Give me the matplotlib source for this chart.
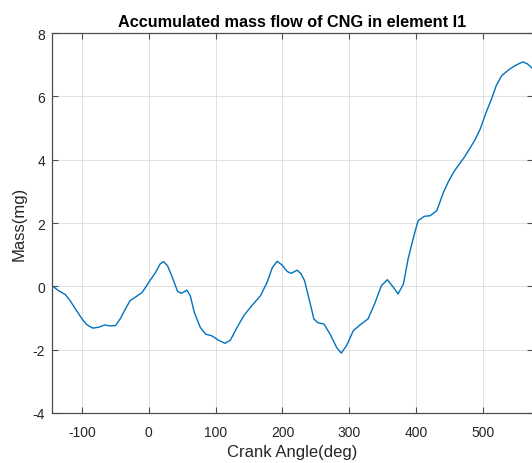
import matplotlib
matplotlib.use("Agg")
import matplotlib.pyplot as plt

plt.rcParams['font.family'] = ['Liberation Sans', 'DejaVu Sans']
plt.rcParams['axes.unicode_minus'] = False

# Crank angle (deg) and accumulated CNG mass (mg)
crank_angle = [-145, -135, -125, -118, -110, -100, -93, -84, -75, -66, -58,
               -50, -43, -35, -28, -18, -10, 0, 10, 17, 22, 28, 35, 43, 49,
               57, 62, 68, 77, 85, 94, 104, 114, 122, 132, 142, 154, 167,
               177, 185, 192, 199, 207, 213, 222, 228, 233, 241, 247, 253,
               262, 271, 281, 288, 296, 306, 316, 328, 338, 348, 357, 366,
               373, 381, 388, 396, 403, 412, 421, 431, 441, 448, 456, 463,
               471, 480, 488, 496, 505, 513, 520, 528, 540, 550, 560, 567,
               575]
mass_mg = [0.02, -0.14, -0.26, -0.45, -0.71, -1.03, -1.21, -1.32, -1.29,
           -1.22, -1.25, -1.24, -1.03, -0.71, -0.45, -0.31, -0.19, 0.13,
           0.44, 0.71, 0.78, 0.65, 0.29, -0.16, -0.22, -0.12, -0.30, -0.82,
           -1.30, -1.51, -1.56, -1.70, -1.80, -1.70, -1.30, -0.93, -0.61,
           -0.30, 0.13, 0.60, 0.79, 0.68, 0.47, 0.41, 0.51, 0.39, 0.18,
           -0.50, -1.03, -1.15, -1.19, -1.50, -1.93, -2.11, -1.87, -1.40,
           -1.22, -1.03, -0.55, 0.02, 0.21, -0.03, -0.24, 0.07, 0.86, 1.54,
           2.07, 2.21, 2.23, 2.39, 2.97, 3.29, 3.60, 3.81, 4.04, 4.34, 4.62,
           4.97, 5.50, 5.92, 6.34, 6.65, 6.86, 6.99, 7.09, 7.02, 6.86]

x_ticks = [-100, 0, 100, 200, 300, 400, 500]
y_ticks = [-4, -2, 0, 2, 4, 6, 8]

W, H = 532, 464
fig = plt.figure(figsize=(W / 100, H / 100), dpi=100)
left, right, top, bottom = 52, 533, 34, 414
ax = fig.add_axes([left / W, (H - bottom) / H, (right - left) / W, (bottom - top) / H])

ax.plot(crank_angle, mass_mg, color='#0072BD', linewidth=1.0)

ax.set_xlim(-145, 575)
ax.set_ylim(-4, 8)
ax.set_xticks(x_ticks)
ax.set_yticks(y_ticks)

axis_color = '#262626'
ax.grid(True, color='#dcdcdc', linewidth=0.6)
ax.set_axisbelow(True)
for s in ax.spines.values():
    s.set_color('#4d4d4d')
    s.set_linewidth(0.9)
ax.tick_params(direction='in', length=4, width=0.8, color='#4d4d4d',
               labelcolor=axis_color, labelsize=10, top=True, right=True)
ax.tick_params(axis='x', pad=9)
ax.tick_params(axis='y', pad=5)

ax.set_xlabel('Crank Angle(deg)', fontsize=12, color=axis_color, labelpad=3)
ax.set_ylabel('Mass(mg)', fontsize=12, color=axis_color, labelpad=4)
ax.set_title('Accumulated mass flow of CNG in element I1', fontsize=11.7,
             fontweight='bold', color='black', pad=5)

fig.savefig('out.png', dpi=100)
